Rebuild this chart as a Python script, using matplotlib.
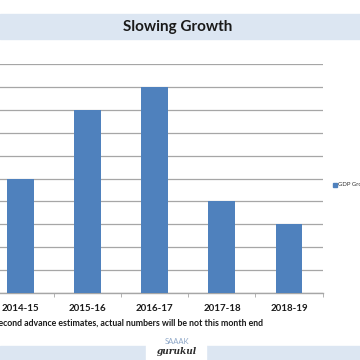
import matplotlib.pyplot as plt
from matplotlib.patches import Rectangle

# =========================
# DATA
# =========================
years = ["2014-15", "2015-16", "2016-17", "2017-18", "2018-19"]
gdp_growth = [7.4, 8.0, 8.2, 7.2, 7.0]
y_ticks = [6.4, 6.6, 6.8, 7.0, 7.2, 7.4, 7.6, 7.8, 8.0, 8.2, 8.4]

BAR_COLOR = "#4F81BD"
BAND_COLOR = "#DCE6F2"
GRID_COLOR = "#A6A6A6"

plt.rcParams["font.family"] = ["Lato", "DejaVu Sans"]

W = H = 360
fig = plt.figure(figsize=(3.6, 3.6), dpi=100)


def fx(px):
    return px / W


def fy(py):
    return 1 - py / H


# background bands
fig.patches.append(Rectangle((0, fy(39)), 1, (39 - 14) / H, transform=fig.transFigure,
                             color=BAND_COLOR, zorder=0))
fig.patches.append(Rectangle((0, 0), 1, (360 - 346) / H, transform=fig.transFigure,
                             color=BAND_COLOR, zorder=0))

# =========================
# AXES (left side cropped like the screenshot)
# =========================
left, right, top, bottom = -12.8, 322.5, 64, 293
ax = fig.add_axes([fx(left), fy(bottom), (right - left) / W, (bottom - top) / H])
ax.set_facecolor("none")

x = range(len(years))
ax.bar(x, gdp_growth, width=0.4, color=BAR_COLOR, zorder=3, label="GDP Growth")
ax.set_xlim(-0.5, len(years) - 0.5)
ax.set_ylim(y_ticks[0], y_ticks[-1])
ax.set_yticks(y_ticks)
ax.yaxis.grid(True, color=GRID_COLOR, linewidth=0.9, zorder=0)
ax.tick_params(axis="y", left=False, labelleft=False)

for s in ["top", "right", "left"]:
    ax.spines[s].set_visible(False)
ax.spines["bottom"].set_color(GRID_COLOR)
ax.spines["bottom"].set_linewidth(1.0)

ax.set_xticks(list(x))
ax.set_xticklabels(years, fontsize=7, fontweight="bold", color="#1a1a1a")
ax.tick_params(axis="x", length=0, pad=8)
ax.set_xticks([i - 0.5 for i in range(len(years) + 1)], minor=True)
ax.tick_params(axis="x", which="minor", length=3, color=GRID_COLOR, direction="out")

# title
fig.text(fx(178), fy(26.5), "Slowing Growth", ha="center", va="center",
         fontsize=11, fontweight="bold", color="#1a1a1a")

# footnote
fig.text(fx(263), fy(323), "*Second advance estimates, actual numbers will be not this month end",
         ha="right", va="center", fontsize=6.3, fontweight="bold", color="#1a1a1a")

# legend (cut at the right edge)
fig.patches.append(Rectangle((fx(333), fy(187)), 4 / W, 4 / H, transform=fig.transFigure,
                             color=BAR_COLOR))
fig.text(fx(338.5), fy(184.5), "GDP Growth", ha="left", va="center", fontsize=4.3,
         color="#333333")

# logo
fig.patches.append(Rectangle((fx(146), 0), 60 / W, (360 - 340) / H, transform=fig.transFigure,
                             color="white", zorder=1))
fig.text(fx(177), fy(342), "SAAAK", ha="center", va="center", fontsize=5.5,
         color="#8FA8C8", zorder=2)
fig.text(fx(177), fy(352), "gurukul", ha="center", va="center", fontsize=6.5,
         style="italic", fontweight="bold", family="DejaVu Serif", color="#2b2b2b", zorder=2)

fig.savefig("out.png", dpi=100)
